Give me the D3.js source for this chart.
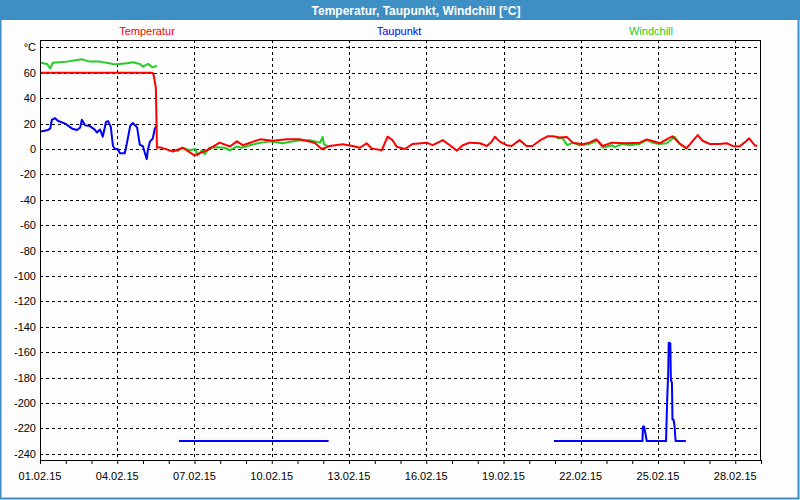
<!DOCTYPE html>
<html><head><meta charset="utf-8">
<script src="https://cdn.jsdelivr.net/npm/d3@7"></script>
<style>body{margin:0;background:#fff}svg{display:block}text{font-family:"Liberation Sans",Arial,sans-serif}</style>
</head><body><svg id="c" width="800" height="500"></svg>
<script>
const title = "Temperatur, Taupunkt, Windchill [°C]";
const seriesNames = ["Temperatur", "Taupunkt", "Windchill"];
const seriesColors = ["#ff0000", "#0000ff", "#22cc22"];
const yTicks = [-240,-220,-200,-180,-160,-140,-120,-100,-80,-60,-40,-20,0,20,40,60,80];
const xTickLabels = ["01.02.15","04.02.15","07.02.15","10.02.15","13.02.15","16.02.15","19.02.15","22.02.15","25.02.15","28.02.15"];

const temperatur = [
["01.02 00:00",60],["05.02 09:00",60],["05.02 10:00",58],["05.02 12:00",48],["05.02 13:00",1],
["05.02 16:00",1.3],["06.02 04:00",-2],["06.02 13:00",1],["07.02 00:00",-5],["07.02 11:30",-1],
["07.02 23:30",5],["08.02 09:00",2],["08.02 15:30",6],["08.02 21:00",3],["09.02 13:00",7.6],
["10.02 01:00",6.5],["10.02 14:00",7.6],["11.02 02:00",7.6],["11.02 16:00",5],["11.02 22:30",0],
["12.02 03:00",1.3],["12.02 06:00",2.4],["12.02 18:00",3.7],["13.02 03:30",2.4],["13.02 10:00",1],
["13.02 16:30",4.5],["13.02 21:00",0.5],["14.02 06:30",-1],["14.02 12:00",9.7],["14.02 16:30",7],
["14.02 20:30",1.8],["15.02 04:00",0],["15.02 11:30",4],["16.02 00:30",5],["16.02 06:00",3],
["16.02 15:30",7],["16.02 22:00",3],["17.02 04:30",-1.3],["17.02 10:00",3],["17.02 16:30",5],
["18.02 02:00",4.5],["18.02 08:30",2.4],["18.02 13:00",5.8],["18.02 16:00",9.7],["18.02 20:30",5.8],
["19.02 03:00",3],["19.02 07:30",2.4],["19.02 15:00",7],["19.02 21:30",2.4],["20.02 03:00",2.4],
["20.02 09:30",6.5],["20.02 17:00",10],["20.02 22:00",10],["21.02 04:30",9],["21.02 11:00",9.5],
["21.02 16:30",5],["22.02 02:00",3.7],["22.02 08:00",5],["22.02 14:30",7.6],["22.02 20:30",2.4],
["23.02 05:00",5],["23.02 19:00",4.5],["24.02 07:00",5],["24.02 13:30",7.6],["24.02 19:00",6.3],
["25.02 01:30",4.5],["25.02 11:00",9],["25.02 13:30",10],["25.02 20:00",4.5],["26.02 02:30",0.5],
["26.02 08:00",6],["26.02 13:00",11],["26.02 17:30",6.5],["27.02 00:00",4],["27.02 09:30",4],
["27.02 16:00",4.5],["27.02 21:30",2.4],["28.02 04:00",2],["28.02 08:30",5],["28.02 13:00",8.4],
["28.02 18:00",3],["28.02 20:30",2.4]
];

const taupunkt = [
["01.02 00:00",13.6],["01.02 07:30",15],["01.02 09:30",16],["01.02 11:00",23],["01.02 14:00",24.3],
["01.02 17:00",22],["01.02 23:30",20],["02.02 06:00",16],["02.02 10:30",15],["02.02 13:30",17],
["02.02 15:00",23],["02.02 18:00",18.7],["02.02 22:30",18],["03.02 03:00",15.3],["03.02 05:00",13],
["03.02 08:00",15.3],["03.02 10:30",9.7],["03.02 13:30",21.3],["03.02 15:30",22],["03.02 18:00",17.3],
["03.02 20:00",2.4],["03.02 22:00",0],["04.02 00:30",0],["04.02 02:30",-3.4],["04.02 07:00",-3.4],
["04.02 09:00",4.5],["04.02 12:00",18],["04.02 14:30",20.5],["04.02 18:30",17],["04.02 21:00",3.4],
["05.02 00:00",2],["05.02 03:30",-8],["05.02 04:30",-1],["05.02 06:30",6],["05.02 09:00",8],
["05.02 11:00",16],["05.02 13:00",18.7],["05.02 14:00",null],
["06.02 09:30",-230],["12.02 05:00",-230],["12.02 06:00",null],
["20.02 23:00",-230],["24.02 09:30",-230],["24.02 10:00",-218.5],["24.02 11:00",-218.5],["24.02 12:30",-225],
["24.02 13:30",-230],["25.02 07:30",-230],["25.02 08:30",-199],["25.02 09:30",-176.6],["25.02 10:00",-152.5],
["25.02 11:30",-153],["25.02 12:00",-182],["25.02 13:00",-184],["25.02 13:30",-213],["25.02 14:30",-213],
["25.02 15:30",-218.5],["25.02 16:00",-225.5],["25.02 16:30",-230],["26.02 02:00",-230]
];

const windchill = [
["01.02 00:00",68],["01.02 06:30",67],["01.02 09:30",63.5],["01.02 12:00",68],["02.02 01:00",68.8],
["02.02 15:00",70.6],["02.02 22:30",68.8],["03.02 08:00",68.8],["03.02 20:00",67],["03.02 23:30",66.7],
["04.02 09:00",67.5],["04.02 14:30",68.3],["04.02 21:00",67],["05.02 00:00",64.8],["05.02 04:30",67],
["05.02 09:00",64.3],["05.02 13:00",65.7],["05.02 14:00",null],
["06.02 07:30",-2],["06.02 13:00",1],["06.02 19:30",-1],["07.02 00:30",0],["07.02 03:00",-5],
["07.02 07:00",-1],["07.02 09:30",-4],["07.02 14:00",1],["07.02 21:00",1.3],["08.02 04:00",1],
["08.02 09:00",-1],["08.02 15:30",2],["08.02 20:00",1],["09.02 03:30",3],["09.02 11:00",4.5],
["09.02 22:00",6],["10.02 10:00",4.5],["10.02 23:00",6.5],["11.02 11:30",7],["11.02 21:00",5],
["11.02 23:30",9.5],["12.02 00:30",4],["12.02 04:00",2],["12.02 05:00",null],
["21.02 01:30",8.4],["21.02 07:00",8.4],["21.02 11:30",3],["21.02 16:30",5],["21.02 23:00",3],
["22.02 08:00",4],["22.02 15:30",6.5],["22.02 20:30",1],["23.02 05:00",3],["23.02 07:30",1.5],
["23.02 15:00",4],["23.02 21:30",3],["24.02 07:00",4],["24.02 13:30",7],["24.02 19:00",5],
["25.02 01:30",4],["25.02 08:00",4.5],["25.02 15:30",9.5],["25.02 20:00",4],["26.02 02:30",0.5]
];

const parse = d3.timeParse("%d.%m.%Y %H:%M");
const toPts = arr => arr.map(([t, v]) => ({ t: parse(t.replace(" ", ".2015 ")), v }));

const svg = d3.select("#c");
const L = 40, R = 761, T = 40, B = 460;

// window chrome
svg.append("rect").attr("x",0).attr("y",0).attr("width",800).attr("height",500).attr("fill","#fcfdfc");
svg.append("rect").attr("x",0.5).attr("y",0.5).attr("width",798).attr("height",498)
  .attr("fill","none").attr("stroke","#3d8fc4").attr("stroke-width",2);
svg.append("rect").attr("x",0).attr("y",0).attr("width",800).attr("height",20).attr("fill","#3d8fc4");
svg.append("text").attr("x",416).attr("y",14.5).attr("text-anchor","middle")
  .attr("fill","#fff").attr("font-weight","bold").attr("font-size",12).text(title);

// legend
const legendX = [147, 399, 651];
seriesNames.forEach((n,i) => {
  svg.append("text").attr("x",legendX[i]).attr("y",35).attr("text-anchor","middle")
    .attr("font-size",11).attr("fill",seriesColors[i]).text(n);
});

const x = d3.scaleTime().domain([new Date(2015,1,1), new Date(2015,2,1)]).range([L, R]);
const y = d3.scaleLinear().domain([-240, 80]).range([453.8, 47.4]);

// grid
const g = svg.append("g");
yTicks.forEach(v => {
  g.append("line").attr("x1",L).attr("x2",R).attr("y1",Math.round(y(v))+0.5).attr("y2",Math.round(y(v))+0.5)
    .attr("stroke","#000").attr("stroke-dasharray","3,3");
});
const majorDates = xTickLabels.map(s => parse(s.slice(0,6) + "2015 00:00"));
majorDates.slice(1).forEach(d => {
  g.append("line").attr("x1",Math.round(x(d))+0.5).attr("x2",Math.round(x(d))+0.5).attr("y1",T).attr("y2",B)
    .attr("stroke","#000").attr("stroke-dasharray","3,3");
});

// y labels
yTicks.forEach(v => {
  svg.append("text").attr("x",36).attr("y",y(v)+4).attr("text-anchor","end")
    .attr("font-size",11).attr("fill","#000").text(v === 80 ? "°C" : v);
});

// x axis (minor ticks every day)
const xAxis = d3.axisBottom(x).ticks(d3.timeDay.every(1)).tickSize(4).tickFormat("");
const ax = svg.append("g").attr("transform",`translate(0,${B})`).call(xAxis);
ax.select(".domain").remove();
ax.selectAll("line").attr("stroke","#000");
majorDates.forEach((d,i) => {
  svg.append("text").attr("x",x(d)).attr("y",480).attr("text-anchor","middle")
    .attr("font-size",11).attr("fill","#000").text(xTickLabels[i]);
});

// frame
svg.append("rect").attr("x",L+0.5).attr("y",T+0.5).attr("width",R-L-1).attr("height",B-T)
  .attr("fill","none").attr("stroke","#000");

// lines
svg.append("clipPath").attr("id","clip").append("rect").attr("x",L+1).attr("y",T+1).attr("width",R-L-2).attr("height",B-T-2);
const line = d3.line().defined(d => d.v !== null).x(d => x(d.t)).y(d => y(d.v));
[[windchill,2],[taupunkt,1],[temperatur,0]].forEach(([data,i]) => {
  svg.append("path").attr("clip-path","url(#clip)").attr("d", line(toPts(data)))
    .attr("fill","none").attr("stroke",seriesColors[i]).attr("stroke-width",2).attr("stroke-linejoin","round");
});
</script></body></html>
